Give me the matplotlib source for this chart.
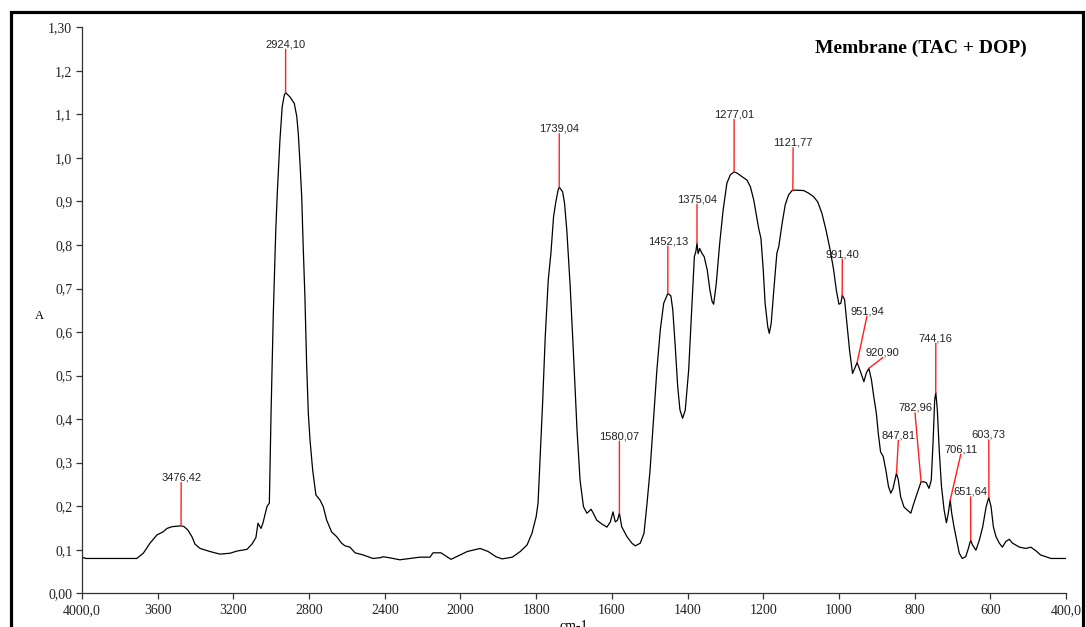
"""
FTIR spectrum of the TAC + DOP membrane, with the peak labels and the
split wavenumber axis (4000-2000 compressed, 2000-400 expanded).
"""

import numpy as np
import matplotlib
matplotlib.use("Agg")
import matplotlib.pyplot as plt
from matplotlib.patches import Rectangle
from matplotlib.ticker import FixedLocator, FixedFormatter, NullLocator

# spectrum (wavenumber in cm-1, absorbance)
wavenumber = [
    4000, 3990, 3980, 3900, 3800, 3711, 3676, 3641, 3604, 3572, 3551, 3524,
    3500, 3476, 3460, 3440, 3419, 3403, 3376, 3324, 3271, 3218, 3181, 3128,
    3102, 3081, 3070, 3054, 3044, 3022, 3010, 3001, 2989, 2976, 2968, 2954,
    2942, 2931, 2924, 2901, 2878, 2865, 2857, 2848, 2839, 2831, 2822, 2813,
    2804, 2795, 2781, 2764, 2742, 2725, 2707, 2681, 2654, 2628, 2610, 2584,
    2557, 2514, 2462, 2420, 2410, 2380, 2320, 2267, 2214, 2161, 2145, 2103,
    2050, 2002, 1982, 1948, 1927, 1906, 1890, 1863, 1842, 1824, 1811, 1800,
    1795, 1791, 1783, 1776, 1768, 1761, 1754, 1748, 1742, 1739, 1730, 1725,
    1719, 1710, 1701, 1692, 1684, 1675, 1666, 1662, 1655, 1649, 1640, 1626,
    1613, 1604, 1597, 1591, 1585, 1580, 1574, 1560, 1547, 1538, 1525, 1515,
    1507, 1499, 1490, 1481, 1472, 1463, 1455, 1452, 1444, 1439, 1433, 1426,
    1420, 1413, 1406, 1397, 1389, 1382, 1378, 1375, 1372, 1368, 1362, 1356,
    1348, 1341, 1335, 1331, 1324, 1315, 1306, 1296, 1287, 1277, 1269, 1256,
    1243, 1234, 1225, 1216, 1212, 1206, 1200, 1195, 1188, 1184, 1179, 1172,
    1164, 1159, 1150, 1142, 1133, 1124, 1115, 1093, 1080, 1067, 1056, 1045,
    1034, 1023, 1014, 1007, 1000, 995, 991, 985, 979, 972, 964, 958,
    952, 943, 934, 928, 921, 914, 908, 901, 896, 890, 883, 876,
    869, 863, 857, 848, 843, 837, 828, 819, 810, 802, 793, 783,
    775, 769, 762, 756, 751, 747, 744, 740, 735, 729, 722, 716,
    711, 706, 702, 696, 689, 682, 674, 665, 658, 652, 647, 638,
    629, 620, 611, 604, 598, 592, 585, 576, 568, 559, 550, 541,
    523, 506, 493, 480, 467, 453, 440, 427, 400,
]
absorbance = [
    0.080, 0.082, 0.080, 0.080, 0.080, 0.080, 0.092, 0.115, 0.134, 0.141, 0.149, 0.153,
    0.154, 0.155, 0.153, 0.145, 0.130, 0.113, 0.103, 0.096, 0.090, 0.092, 0.097, 0.101,
    0.113, 0.128, 0.161, 0.149, 0.161, 0.200, 0.207, 0.413, 0.643, 0.834, 0.919, 1.041,
    1.118, 1.144, 1.150, 1.140, 1.125, 1.095, 1.056, 0.988, 0.911, 0.796, 0.681, 0.528,
    0.413, 0.352, 0.283, 0.226, 0.214, 0.199, 0.168, 0.141, 0.130, 0.115, 0.109, 0.106,
    0.093, 0.088, 0.080, 0.082, 0.084, 0.082, 0.077, 0.080, 0.083, 0.083, 0.093, 0.093,
    0.078, 0.088, 0.096, 0.103, 0.096, 0.084, 0.079, 0.083, 0.096, 0.111, 0.138, 0.176,
    0.207, 0.283, 0.436, 0.589, 0.720, 0.781, 0.865, 0.899, 0.926, 0.933, 0.922, 0.896,
    0.834, 0.704, 0.543, 0.375, 0.260, 0.199, 0.184, 0.187, 0.193, 0.184, 0.168, 0.159,
    0.152, 0.164, 0.187, 0.164, 0.168, 0.184, 0.153, 0.130, 0.115, 0.109, 0.115, 0.138,
    0.207, 0.283, 0.398, 0.513, 0.605, 0.666, 0.683, 0.689, 0.683, 0.651, 0.574, 0.475,
    0.421, 0.402, 0.421, 0.513, 0.651, 0.773, 0.785, 0.804, 0.780, 0.792, 0.781, 0.773,
    0.743, 0.697, 0.670, 0.664, 0.712, 0.804, 0.880, 0.942, 0.961, 0.968, 0.965, 0.957,
    0.949, 0.934, 0.903, 0.857, 0.838, 0.815, 0.743, 0.666, 0.612, 0.597, 0.620, 0.697,
    0.781, 0.796, 0.850, 0.892, 0.915, 0.925, 0.926, 0.925, 0.919, 0.911, 0.899, 0.873,
    0.834, 0.788, 0.743, 0.697, 0.664, 0.666, 0.685, 0.674, 0.620, 0.559, 0.505, 0.517,
    0.530, 0.509, 0.486, 0.505, 0.517, 0.490, 0.452, 0.413, 0.367, 0.325, 0.314, 0.283,
    0.245, 0.230, 0.241, 0.276, 0.260, 0.222, 0.198, 0.191, 0.184, 0.207, 0.230, 0.256,
    0.256, 0.254, 0.241, 0.260, 0.352, 0.444, 0.461, 0.421, 0.329, 0.245, 0.191, 0.162,
    0.184, 0.214, 0.184, 0.153, 0.122, 0.092, 0.080, 0.084, 0.103, 0.122, 0.111, 0.099,
    0.122, 0.153, 0.199, 0.220, 0.199, 0.153, 0.130, 0.115, 0.106, 0.119, 0.124, 0.115,
    0.106, 0.103, 0.106, 0.098, 0.088, 0.084, 0.080, 0.080, 0.080,
]

# peak labels: peak wavenumber, label text, label position (wavenumber, A)
peak_wn = [3476.42, 2924.10, 1739.04, 1580.07, 1452.13, 1375.04, 1277.01,
           1121.77, 991.40, 951.94, 920.90, 847.81, 782.96, 744.16, 706.11,
           651.64, 603.73]
peak_text = ["3476,42", "2924,10", "1739,04", "1580,07", "1452,13", "1375,04",
             "1277,01", "1121,77", "991,40", "951,94", "920,90", "847,81",
             "782,96", "744,16", "706,11", "651,64", "603,73"]
text_wn = [3476, 2924, 1739, 1580, 1452, 1375, 1277, 1121, 991, 926, 884,
           843, 799, 744, 678, 652, 604]
text_a = [0.259, 1.254, 1.060, 0.354, 0.802, 0.898, 1.093, 1.028, 0.772,
          0.641, 0.546, 0.356, 0.419, 0.579, 0.324, 0.226, 0.357]

x_ticks = [4000, 3600, 3200, 2800, 2400, 2000, 1800, 1600, 1400, 1200, 1000,
           800, 600, 400]
x_tick_labels = ["4000,0", "3600", "3200", "2800", "2400", "2000", "1800",
                 "1600", "1400", "1200", "1000", "800", "600", "400,0"]
y_ticks = [0.0, 0.1, 0.2, 0.3, 0.4, 0.5, 0.6, 0.7, 0.8, 0.9, 1.0, 1.1, 1.2, 1.3]
y_tick_labels = ["0,00", "0,1", "0,2", "0,3", "0,4", "0,5", "0,6", "0,7",
                 "0,8", "0,9", "1,0", "1,1", "1,2", "1,30"]


def forward(x):
    # 2000-400 gets twice the room per cm-1 of 4000-2000
    x = np.asarray(x, dtype=float)
    return np.where(x <= 2000, (x - 400) / 200, 8 + (x - 2000) / 400)


def inverse(u):
    u = np.asarray(u, dtype=float)
    return np.where(u <= 8, 400 + 200 * u, 2000 + 400 * (u - 8))


serif = ["Liberation Serif", "DejaVu Serif"]
sans = ["Liberation Sans", "DejaVu Sans"]

fig = plt.figure(figsize=(10.86, 6.27), dpi=100)
ax = fig.add_axes([82 / 1086, 33.7 / 627, 984 / 1086, 566 / 627])

ax.set_xscale("function", functions=(forward, inverse))
ax.plot(wavenumber, absorbance, color="black", lw=0.9)
ax.set_xlim(4000, 400)
ax.set_ylim(0, 1.3)

wn_arr = np.array(wavenumber)[::-1]
a_arr = np.array(absorbance)[::-1]
for pk, txt, tx, ty in zip(peak_wn, peak_text, text_wn, text_a):
    pa = np.interp(pk, wn_arr, a_arr)
    ax.annotate(
        txt,
        xy=(pk, pa),
        xytext=(tx, ty),
        ha="center",
        va="baseline",
        fontsize=8,
        family=sans,
        color="#222222",
        bbox=dict(boxstyle="square,pad=0", fc="none", ec="none"),
        arrowprops=dict(arrowstyle="-", color="#ff2020", lw=1.0,
                        shrinkA=0, shrinkB=0, relpos=(0.5, 0)),
    )

# axes styling
for side in ["top", "right"]:
    ax.spines[side].set_visible(False)
for side in ["left", "bottom"]:
    ax.spines[side].set_color("#333333")
    ax.spines[side].set_linewidth(0.9)

ax.xaxis.set_major_locator(FixedLocator(x_ticks))
ax.xaxis.set_major_formatter(FixedFormatter(x_tick_labels))
ax.xaxis.set_minor_locator(NullLocator())
ax.set_yticks(y_ticks)
ax.set_yticklabels(y_tick_labels)
ax.tick_params(direction="out", length=4, width=0.9, color="#333333",
               labelsize=10, labelcolor="#222222")
ax.tick_params(axis="x", pad=4)
ax.tick_params(axis="y", pad=3)
for lab in ax.get_xticklabels() + ax.get_yticklabels():
    lab.set_family(serif)

ax.set_ylabel("A", rotation=0, fontsize=9, family=serif)
ax.yaxis.set_label_coords(-0.043, 0.479)
ax.set_xlabel("cm-1", fontsize=10, family=serif)
ax.xaxis.set_label_coords(0.5, -0.048)
ax.xaxis.label.set_va("top")

ax.text(0.8526, 0.9634, "Membrane (TAC + DOP)", transform=ax.transAxes,
        ha="center", va="center", fontsize=14, fontweight="bold", family=serif)

# thick frame round the whole chart (its bottom edge lies below the picture)
fig.patches.append(Rectangle((10.5 / 1086, -0.1), (1083 - 10.5) / 1086,
                             1.1 - 12.3 / 627, transform=fig.transFigure,
                             fill=False, lw=2.3, ec="black"))

fig.savefig("out.png", dpi=100)
